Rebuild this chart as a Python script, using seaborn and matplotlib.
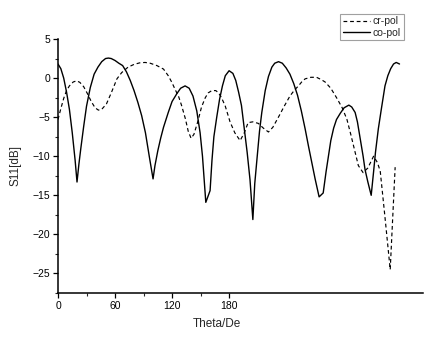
import matplotlib
matplotlib.use("Agg")
import matplotlib.pyplot as plt
import seaborn as sns
import pandas as pd
from matplotlib.ticker import MultipleLocator, FixedLocator

# Co-polar S11 [dB] versus theta [deg]
co_theta = [0, 3, 6, 9, 12, 15, 18, 20,
            22, 24, 27, 30, 34, 38, 42, 46, 50, 53, 56, 60, 64, 68, 72, 76, 80,
            84, 88, 92, 96, 100,
            102, 105, 108, 111, 116, 120, 125, 129, 133.7, 138, 142, 146, 149.5,
            152, 155.5, 160,
            162, 164, 167, 170, 173, 176, 180, 184, 187, 190, 193, 196, 199, 202,
            205,
            207, 209, 212, 214.4, 218, 221.4, 225, 228, 232, 236, 240, 244, 248,
            252, 256, 260, 263.5, 267, 270.5, 274.7, 279,
            282, 284.5, 287, 290, 293, 297, 301, 306, 309, 312.6, 315, 318, 321,
            323, 326, 329.5,
            332, 334, 337, 340, 344, 347, 350, 353, 355.8, 359.3]
co_s11 = [1.8, 1.2, 0.0, -1.8, -4.0, -7.0, -10.5, -13.3,
          -11.0, -9.0, -6.2, -3.6, -1.2, 0.5, 1.4, 2.1, 2.5, 2.56, 2.5, 2.25, 1.9,
          1.6, 0.8, -0.3, -1.6, -3.1, -4.8, -7.0, -10.0, -12.9,
          -11.2, -9.3, -7.7, -6.3, -4.4, -3.0, -2.0, -1.3, -1.0, -1.3, -2.3, -4.2,
          -7.0, -10.0, -15.9, -14.4,
          -10.5, -7.5, -5.0, -2.7, -1.0, 0.3, 0.94, 0.6, -0.3, -1.8, -3.5, -6.5,
          -9.5, -13.0, -18.1,
          -13.5, -10.8, -6.8, -4.4, -1.6, 0.2, 1.4, 1.9, 2.1, 1.9, 1.3, 0.5, -0.7,
          -2.2, -4.2, -6.5, -8.7, -10.8, -12.9, -15.2, -14.7,
          -12.0, -10.0, -8.0, -6.4, -5.3, -4.5, -3.8, -3.46, -3.7, -4.4, -5.6,
          -7.8, -10.0, -11.7, -13.3, -15.0,
          -12.0, -9.5, -6.5, -4.1, -1.0, 0.3, 1.2, 1.8, 2.0, 1.8]

# Cross-polar S11 [dB] versus theta [deg]
cr_theta = [0, 3, 6, 9, 12, 16, 19.6, 23, 27, 31, 35, 39, 42.5, 46, 51, 56, 62,
            67, 73.7, 80, 86, 91.6, 97, 104, 111, 116, 120, 123, 127, 130, 134,
            137, 140, 143, 147, 151, 155, 158, 161.8, 166, 169, 172, 176, 181,
            186, 191.6, 196, 200, 205, 210.8, 216, 221.4, 226, 231.9, 238, 244,
            249, 253, 257, 260, 266, 272, 277, 281, 287, 293, 299, 304, 308, 311,
            316, 321, 326, 332, 336, 339, 344, 349.5, 354.7]
cr_s11 = [-5.3, -3.9, -2.6, -1.6, -1.0, -0.5, -0.35, -0.55, -1.1, -2.0, -3.0,
          -3.8, -4.1, -4.0, -3.3, -1.9, -0.1, 0.7, 1.4, 1.75, 1.95, 2.0, 1.9, 1.6,
          1.15, 0.3, -0.6, -1.4, -2.4, -3.5, -5.2, -6.8, -7.7, -7.2, -5.6, -3.7,
          -2.5, -1.9, -1.6, -1.6, -1.9, -2.5, -3.6, -5.6, -7.0, -8.0, -7.0, -5.7,
          -5.6, -5.8, -6.4, -6.9, -6.3, -5.0, -3.6, -2.3, -1.5, -1.0, -0.4, -0.1,
          0.1, 0.1, -0.2, -0.5, -1.3, -2.5, -3.8, -5.3, -7.2, -8.7, -11.2, -12.1,
          -11.5, -10.0, -10.8, -11.9, -17.8, -24.5, -11.4]

x_ticks = [0, 60, 120, 180]
y_ticks = [-25, -20, -15, -10, -5, 0, 5]

sns.set_style("ticks")
plt.rcParams["font.family"] = ["Liberation Sans", "DejaVu Sans"]

fig = plt.figure(figsize=(4.38, 3.39), dpi=100)
ax = fig.add_axes([58 / 438, 1 - 293 / 339, 365 / 438, 254 / 339])

cr = pd.DataFrame({"theta": cr_theta, "s11": cr_s11})
co = pd.DataFrame({"theta": co_theta, "s11": co_s11})

sns.lineplot(data=cr, x="theta", y="s11", ax=ax, color="black", lw=0.85,
             label="cr-pol")
ax.lines[-1].set_linestyle((0, (3.2, 2.4)))
sns.lineplot(data=co, x="theta", y="s11", ax=ax, color="black", lw=1.0,
             label="co-pol")

ax.set_xlim(0, 384)
ax.set_ylim(-27.5, 5)
ax.xaxis.set_major_locator(FixedLocator(x_ticks))
ax.xaxis.set_minor_locator(FixedLocator([30, 90, 150]))
ax.yaxis.set_major_locator(FixedLocator(y_ticks))
ax.yaxis.set_minor_locator(MultipleLocator(2.5))
ax.tick_params(which="major", direction="out", length=3.5, width=0.9,
               labelsize=7.5, colors="black", pad=2)
ax.tick_params(which="minor", direction="out", length=2, width=0.8)

for side in ("top", "right"):
    ax.spines[side].set_visible(False)
for side in ("left", "bottom"):
    ax.spines[side].set_linewidth(1.1)
    ax.spines[side].set_color("black")

ax.set_xlabel("Theta/De", fontsize=8.5)
ax.set_ylabel("S11[dB]", fontsize=8.5)
ax.xaxis.set_label_coords(0.435, -0.1)
ax.yaxis.set_label_coords(-0.1, 0.5)

leg = ax.legend(loc="upper right", bbox_to_anchor=(0.947, 1.1), fontsize=7.5,
                frameon=True, fancybox=False, handlelength=2.6,
                handletextpad=0.3, borderpad=0.25, labelspacing=0.15,
                borderaxespad=0)
leg.get_frame().set_edgecolor("#888888")
leg.get_frame().set_linewidth(0.8)

fig.savefig("out.png", dpi=100)
